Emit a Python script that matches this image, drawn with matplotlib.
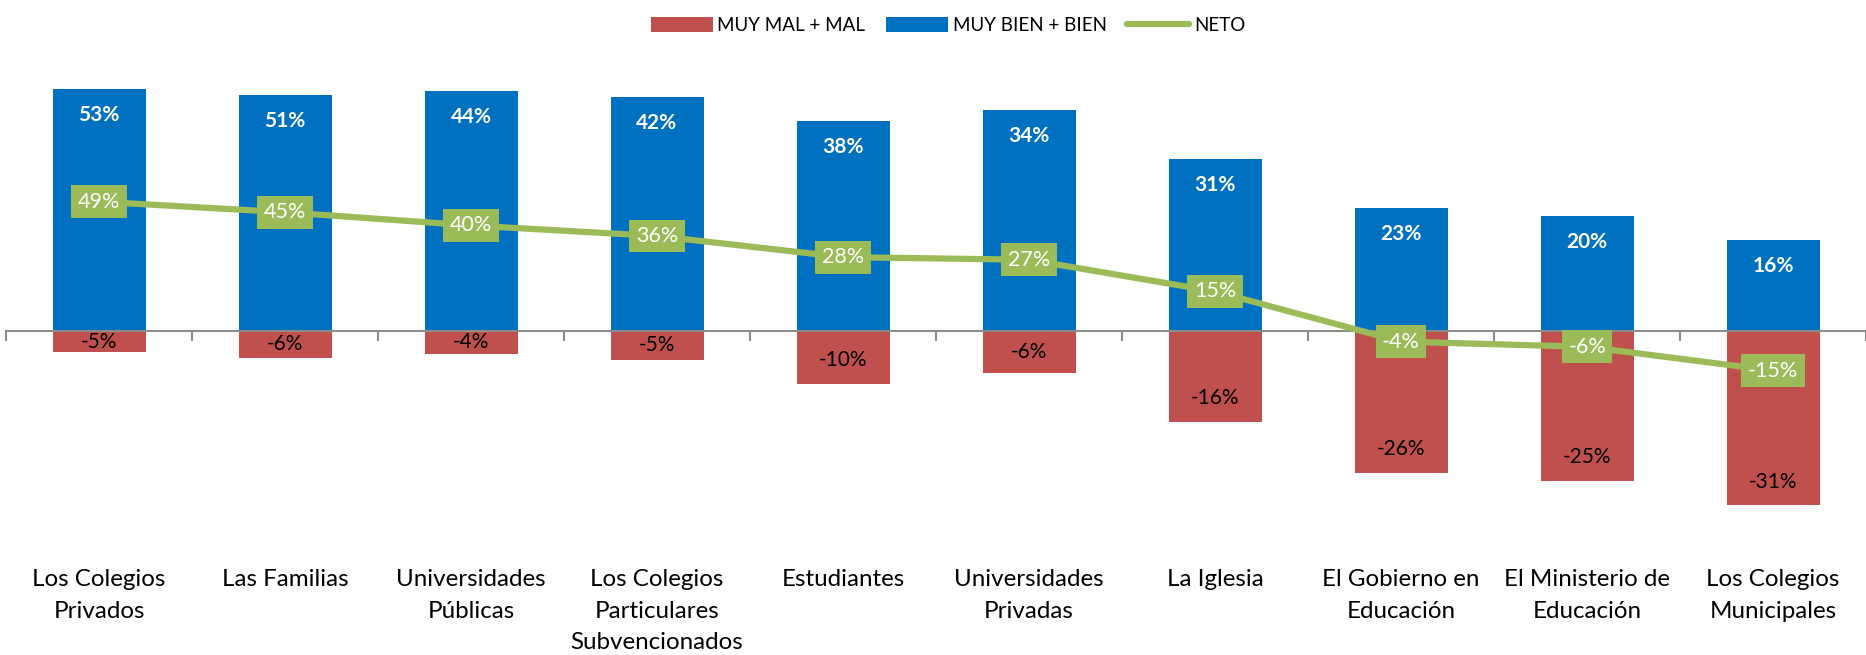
import matplotlib
matplotlib.use("Agg")
import matplotlib.pyplot as plt
from matplotlib.patches import Patch
from matplotlib.lines import Line2D
import numpy as np

plt.rcParams['font.family'] = ['Lato', 'DejaVu Sans']

categories = ["Los Colegios\nPrivados", "Las Familias", "Universidades\nPúblicas",
              "Los Colegios\nParticulares\nSubvencionados", "Estudiantes",
              "Universidades\nPrivadas", "La Iglesia", "El Gobierno en\nEducación",
              "El Ministerio de\nEducación", "Los Colegios\nMunicipales"]

# bar heights as drawn in the reference (primary axis)
bien_vals = [42.7, 41.7, 42.3, 41.3, 37.0, 39.0, 30.4, 21.7, 20.3, 16.0]
mal_vals = [-3.8, -4.7, -4.0, -5.1, -9.4, -7.5, -16.0, -25.0, -26.5, -30.8]
# data labels as printed in the reference
bien_labels = ["53%", "51%", "44%", "42%", "38%", "34%", "31%", "23%", "20%", "16%"]
mal_labels = ["-5%", "-6%", "-4%", "-5%", "-10%", "-6%", "-16%", "-26%", "-25%", "-31%"]
# net line (secondary axis)
neto = [49, 45, 40, 36, 28, 27, 15, -4, -6, -15]

c_mal = '#C0504D'
c_bien = '#0070C0'
c_neto = '#9BBB59'

fig = plt.figure(figsize=(18.66, 6.55), dpi=100)
ax = fig.add_axes([6 / 1866, 115 / 655, 1860 / 1866, 480 / 655])

x = np.arange(len(categories))
ax.bar(x, bien_vals, width=0.5, color=c_bien, zorder=2)
ax.bar(x, mal_vals, width=0.5, color=c_mal, zorder=2)
ax.set_xlim(-0.5, len(categories) - 0.5)
ax.set_ylim(-36.9, 47.8)

# axis line at zero with ticks between categories
for s in ['top', 'right', 'left']:
    ax.spines[s].set_visible(False)
ax.spines['bottom'].set_position(('data', 0))
ax.spines['bottom'].set_color('#8C8C8C')
ax.spines['bottom'].set_linewidth(1.5)
ax.spines['bottom'].set_zorder(3)
ax.set_yticks([])
ax.set_xticks(np.arange(-0.5, len(categories), 1.0))
ax.set_xticklabels([])
ax.tick_params(axis='x', length=7, width=1.5, color='#8C8C8C', direction='out')

for i, lab in enumerate(categories):
    ax.text(i, -0.06, lab, transform=ax.get_xaxis_transform(), ha='center', va='top',
            fontsize=17.4, linespacing=1.63, color='black')

for i in range(len(categories)):
    ax.text(i, bien_vals[i] - 4.6, bien_labels[i], ha='center', va='center',
            color='white', fontsize=15, fontweight='bold', zorder=4)
    ax.text(i, min(mal_vals[i] / 2, mal_vals[i] + 4.2), mal_labels[i], ha='center',
            va='center', color='black', fontsize=15, zorder=4)

ax2 = ax.twinx()
ax2.set_ylim(-79.2, 102.7)
ax2.axis('off')
ax2.plot(x, neto, color=c_neto, linewidth=4.5, zorder=3)
for i, v in enumerate(neto):
    ax2.text(i, v, f"{v}%", ha='center', va='center', color='white', fontsize=15.5,
             bbox=dict(boxstyle='square,pad=0.3', facecolor=c_neto, edgecolor='none'),
             zorder=5)

handles = [Patch(facecolor=c_mal, label='MUY MAL + MAL'),
           Patch(facecolor=c_bien, label='MUY BIEN + BIEN'),
           Line2D([0], [0], color=c_neto, linewidth=4.5, solid_capstyle='round', label='NETO')]
fig.legend(handles=handles, loc='upper center', bbox_to_anchor=(0.508, 1.0), ncol=3,
           frameon=False, fontsize=13.5, handlelength=3.3, handleheight=0.9,
           columnspacing=1.1, handletextpad=0.25)

fig.savefig('out.png', dpi=100)
